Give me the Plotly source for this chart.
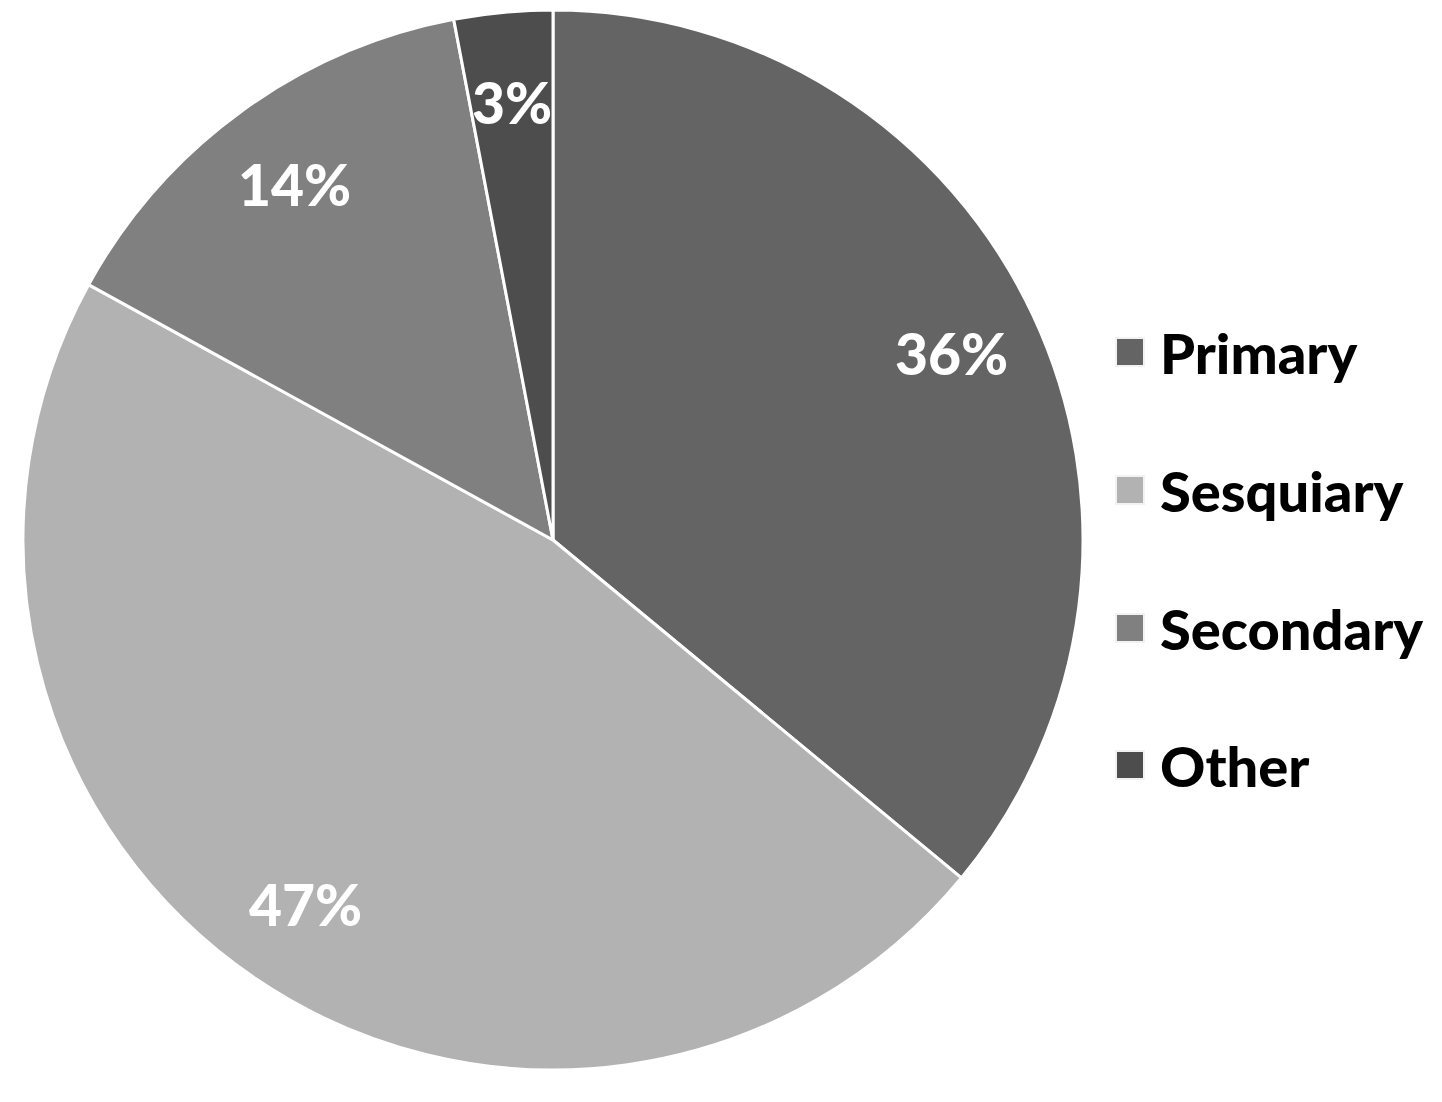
import math
import plotly.graph_objects as go

labels = ["Primary", "Sesquiary", "Secondary", "Other"]
values = [36, 47, 14, 3]
colors = ["#646464", "#b2b2b2", "#808080", "#4d4d4d"]

# page has an 8px body margin; work in reference pixel coords and shift
OX, OY = 8, 8
W, H = 1442 - OX, 1102 - OY
FONT = "Lato"

CX, CY, R = 553, 540, 530  # pie centre / radius in reference pixels


def px(x):
    return (x - OX) / W


def py(y):
    return 1 - (y - OY) / H


fig = go.Figure()
fig.add_trace(go.Pie(
    labels=labels,
    values=values,
    sort=False,
    direction="clockwise",
    rotation=0,
    marker=dict(colors=colors, line=dict(color="#ffffff", width=3)),
    textinfo="none",
    showlegend=False,
    hole=0,
    domain=dict(x=[px(CX - R), px(CX + R)], y=[py(CY + R), py(CY - R)]),
))

# Percentage labels placed along each slice's mid-angle
total = sum(values)
cum = 0
for v in values:
    mid = (cum + v / 2) / total * 2 * math.pi
    cum += v
    rr = 0.83 * R
    lx = CX + rr * math.sin(mid)
    ly = CY - rr * math.cos(mid)
    fig.add_annotation(xref="paper", yref="paper", x=px(lx), y=py(ly),
                       xanchor="center", yanchor="middle", showarrow=False,
                       text=f"{round(v / total * 100)}%",
                       font=dict(family=FONT, size=57, color="#ffffff", weight=900))

# Custom legend (large square swatches)
leg_y = [352, 490, 628, 765]
for lab, col, yc in zip(labels, colors, leg_y):
    fig.add_shape(type="rect", xref="paper", yref="paper",
                  x0=px(1116), x1=px(1144), y0=py(yc + 14), y1=py(yc - 14),
                  fillcolor=col, line=dict(color="#f2f2f2", width=2))
    fig.add_annotation(xref="paper", yref="paper", x=px(1158), y=py(yc),
                       xanchor="left", yanchor="middle", showarrow=False,
                       text=lab, font=dict(family=FONT, size=56, color="#000000", weight=900))

fig.update_layout(
    width=W, height=H,
    margin=dict(l=0, r=0, t=0, b=0),
    paper_bgcolor="#ffffff",
    plot_bgcolor="#ffffff",
)
fig.write_html("out.html")
